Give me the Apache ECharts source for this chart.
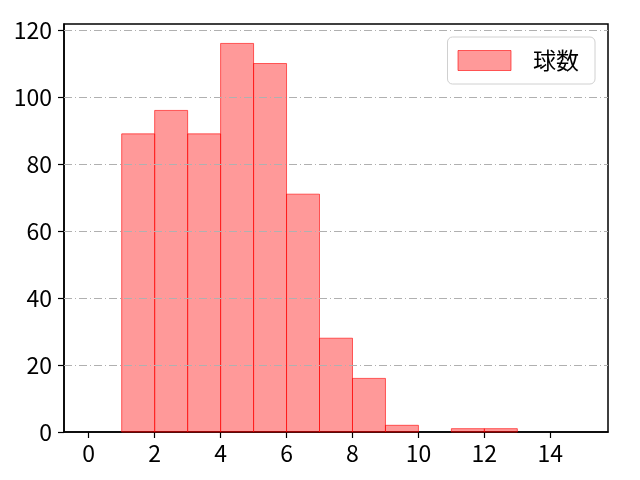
<!DOCTYPE html>
<html><head><meta charset="utf-8">
<script src="https://cdn.jsdelivr.net/npm/echarts@6/dist/echarts.min.js"></script>
<style>html,body{margin:0;padding:0;background:#fff}#c{width:640px;height:480px}</style>
</head><body><div id="c"></div>
<script>
const binStarts = [0,1,2,3,4,5,6,7,8,9,10,11,12,13,14];
const binWidth = 1;
const counts = [0,89,96,89,116,110,71,28,16,2,0,1,1,0,0];
const xTicks = [0,2,4,6,8,10,12,14];
const yTicks = [0,20,40,60,80,100,120];
const seriesName = '球数';

const data = binStarts.map((s,i)=>[s, s+binWidth, counts[i]]).filter(d=>d[2]>0);
const FONT = '"Noto Sans CJK JP", "DejaVu Sans", sans-serif';
const FS = 23;
const chart = echarts.init(document.getElementById('c'));
chart.setOption({
  animation:false,
  backgroundColor:'#fff',
  grid:{left:64,right:32,top:24,bottom:48,show:true,borderColor:'#000',borderWidth:1.5,backgroundColor:'transparent'},
  xAxis:{type:'value',min:-0.75,max:15.75,
    axisLine:{show:true,onZero:false,lineStyle:{color:'#000',width:1.5}},
    axisTick:{show:true,customValues:xTicks,length:6,lineStyle:{color:'#000',width:1.2}},
    axisLabel:{customValues:xTicks,color:'#000',fontSize:FS,fontFamily:FONT,margin:10},
    splitLine:{show:false}},
  yAxis:{type:'value',min:0,max:121.8,
    axisLine:{show:true,onZero:false,lineStyle:{color:'#000',width:1.5}},
    axisTick:{show:true,customValues:yTicks,length:6,lineStyle:{color:'#000',width:1.2}},
    axisLabel:{customValues:yTicks,color:'#000',fontSize:FS,fontFamily:FONT,margin:12},
    splitLine:{show:false}},
  legend:{show:true,right:45,top:37,orient:'vertical',itemWidth:53,itemHeight:20,
    padding:[12,12,12,10],borderColor:'#d0d0d0',borderWidth:1,borderRadius:5,backgroundColor:'#fff',
    textStyle:{fontSize:FS,fontFamily:FONT,color:'#000',padding:[0,4,0,17],lineHeight:22},
    data:[{name:seriesName,icon:'rect',itemStyle:{color:'rgba(255,0,0,0.4)',borderColor:'rgba(255,0,0,0.6)',borderWidth:1}}]},
  series:[
    {type:'line',name:'grid',silent:true,data:[],
      markLine:{silent:true,symbol:'none',label:{show:false},
        lineStyle:{color:'#b0b0b0',type:[8,3,1,3],width:1},
        data:yTicks.filter(v=>v>0).map(v=>({yAxis:v}))}},
    {type:'custom',name:seriesName,
      itemStyle:{color:'rgba(255,0,0,0.4)',borderColor:'rgba(255,0,0,0.6)'},
      encode:{x:[0,1],y:2},
      renderItem:function(params,api){
        const p0=api.coord([api.value(0),api.value(2)]);
        const p1=api.coord([api.value(1),0]);
        return {type:'rect',shape:{x:p0[0],y:p0[1],width:p1[0]-p0[0],height:p1[1]-p0[1]},
          style:{fill:'rgba(255,0,0,0.4)',stroke:'rgba(255,0,0,0.6)',lineWidth:1}};
      },
      data:data}
  ]
});
</script></body></html>
